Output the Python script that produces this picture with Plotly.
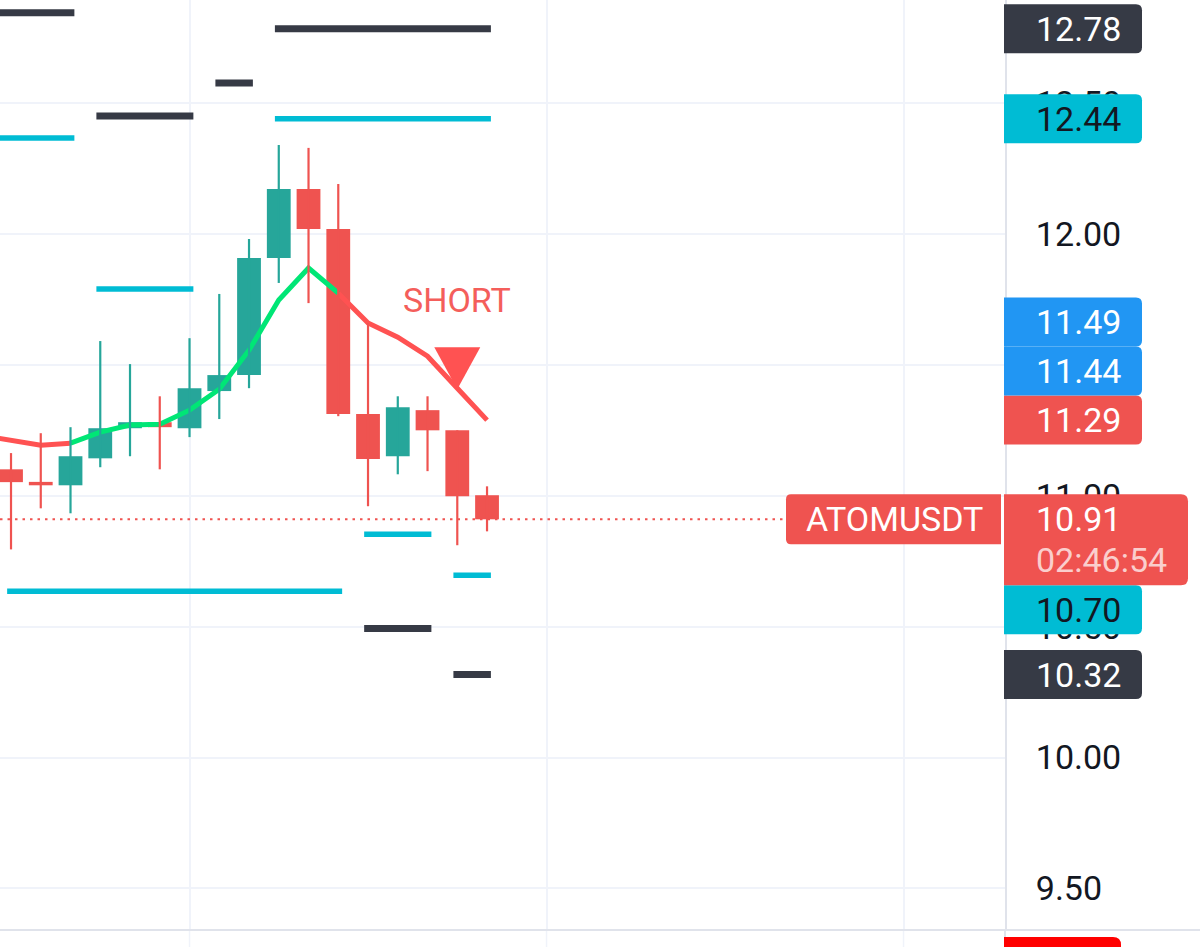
import plotly.graph_objects as go

# ---------------- data ----------------
bars   = list(range(17))
opens  = [11.101, 11.053, 11.040, 11.143, 11.258, 11.281, 11.258, 11.400, 11.461,
          11.908, 12.172, 12.019, 11.312, 11.151, 11.327, 11.250, 11.002]
highs  = [11.163, 11.239, 11.262, 11.591, 11.503, 11.380, 11.602, 11.771, 11.981,
          12.340, 12.329, 12.191, 11.660, 11.380, 11.380, 11.250, 11.036]
lows   = [10.795, 10.952, 10.933, 11.109, 11.151, 11.101, 11.224, 11.293, 11.411,
          11.813, 11.736, 11.304, 10.960, 11.082, 11.094, 10.811, 10.864]
closes = [11.052, 11.040, 11.151, 11.258, 11.281, 11.262, 11.411, 11.461, 11.908,
          12.172, 12.019, 11.312, 11.140, 11.338, 11.250, 10.998, 10.910]

ma_bars = list(range(-2, 17))
ma_vals = [11.250, 11.231, 11.212, 11.193, 11.201, 11.243, 11.270, 11.273, 11.327,
           11.407, 11.556, 11.748, 11.870, 11.774, 11.660, 11.606, 11.533, 11.411, 11.289]

# resistance (dark) and support (cyan) level segments: start bar, end bar, price
res_start = [-1, 3, 7, 9, 12, 15]
res_end   = [2, 6, 8, 16, 14, 16]
res_vals  = [12.845, 12.451, 12.577, 12.784, 10.493, 10.317]
sup_start = [-1, 3, 0, 9, 12, 15]
sup_end   = [2, 6, 11, 16, 14, 16]
sup_vals  = [12.367, 11.790, 10.635, 12.440, 10.853, 10.696]

blue_vals = [11.49, 11.44]
symbol = "ATOMUSDT"
countdown = "02:46:54"
signal_text = "SHORT"
signal_bar = 15

price_ticks = [9.5, 10.0, 10.5, 11.0, 11.5, 12.0, 12.5]
grid_bars = [6, 18, 30]

# ---------------- style ----------------
UP, DOWN = "#26A69A", "#EF5350"
MA_UP, MA_DOWN = "#00E676", "#FF5252"
DARK, CYAN, BLUE, RED = "#363A45", "#00BCD4", "#2196F3", "#EF5350"
GRID, AXIS = "#F0F3FA", "#E0E3EB"
FONT = "Roboto"

W, H = 1200, 947
M_L, M_R, M_T, M_B = 0, 195, 0, 17
Y_RANGE = [9.341, 12.894]
X_RANGE = [-0.37, 33.41]
PLOT_H = H - M_T - M_B

fig = go.Figure()

# level segments
def level_trace(starts, ends, vals, color, width):
    xs, ys = [], []
    for s, e, v in zip(starts, ends, vals):
        xs += [s - 0.13, e + 0.13, None]
        ys += [v, v, None]
    return go.Scatter(x=xs, y=ys, mode="lines", line=dict(color=color, width=width),
                      hoverinfo="skip")

fig.add_trace(level_trace(res_start, res_end, res_vals, DARK, 7))
fig.add_trace(level_trace(sup_start, sup_end, sup_vals, CYAN, 5.5))

# moving average coloured by direction (segment takes colour of its start point)
runs = []
for k in range(1, len(ma_vals) - 1):
    up = ma_vals[k] >= ma_vals[k - 1]
    seg = (ma_bars[k], ma_vals[k], ma_bars[k + 1], ma_vals[k + 1])
    if runs and runs[-1][0] == up:
        runs[-1][1].append(seg)
    else:
        runs.append([up, [seg]])
for up, segs in runs:
    xs = [segs[0][0]] + [s[2] for s in segs]
    ys = [segs[0][1]] + [s[3] for s in segs]
    fig.add_trace(go.Scatter(x=xs, y=ys, mode="lines",
                             line=dict(color=MA_UP if up else MA_DOWN, width=5),
                             hoverinfo="skip"))

# wicks
for is_up, col in [(True, UP), (False, DOWN)]:
    xs, ys = [], []
    for b, o, h, l, c in zip(bars, opens, highs, lows, closes):
        if (c >= o) == is_up:
            xs += [b, b, None]
            ys += [l, h, None]
    fig.add_trace(go.Scatter(x=xs, y=ys, mode="lines", line=dict(color=col, width=2.2),
                             hoverinfo="skip"))

# bodies
fig.add_trace(go.Bar(
    x=bars,
    base=[min(o, c) for o, c in zip(opens, closes)],
    y=[abs(c - o) for o, c in zip(opens, closes)],
    width=0.8,
    marker=dict(color=[UP if c >= o else DOWN for o, c in zip(opens, closes)], line=dict(width=0)),
    hoverinfo="skip"))

# ---------------- price scale labels ----------------
px_per_unit = PLOT_H / (Y_RANGE[1] - Y_RANGE[0])
def ypx(v):
    return M_T + (Y_RANGE[1] - v) * px_per_unit

last = closes[-1]
BOX_H = 49
main_top = ypx(last) - 25
main_bot = ypx(last) + 66

labels = []
for s, e, v in zip(res_start, res_end, res_vals):
    if e == bars[-1]:
        labels.append((v, DARK, "white"))
for s, e, v in zip(sup_start, sup_end, sup_vals):
    if e == bars[-1]:
        labels.append((v, CYAN, "#131722"))
for v in blue_vals:
    labels.append((v, BLUE, "white"))
labels.append((ma_vals[-1], RED, "white"))

above = sorted([l for l in labels if l[0] > last], key=lambda t: t[0])
below = sorted([l for l in labels if l[0] <= last], key=lambda t: -t[0])
placed = []
edge = main_top
for v, bg, fg in above:
    c = ypx(v)
    if c + BOX_H / 2 > edge:
        c = edge - BOX_H / 2
    edge = c - BOX_H / 2
    placed.append((v, bg, fg, ypx(v) - c))
edge = main_bot
for v, bg, fg in below:
    c = ypx(v)
    if c - BOX_H / 2 < edge:
        c = edge + BOX_H / 2
    edge = c + BOX_H / 2
    placed.append((v, bg, fg, ypx(v) - c))

def rbox(x0, x1, yt, yb, r, left_round=False, right_round=True):
    p = ""
    if left_round:
        p += f"M {x0},{yt - r} Q {x0},{yt} {x0 + r},{yt} "
    else:
        p += f"M {x0},{yt} "
    if right_round:
        p += f"L {x1 - r},{yt} Q {x1},{yt} {x1},{yt - r} L {x1},{yb + r} Q {x1},{yb} {x1 - r},{yb} "
    else:
        p += f"L {x1},{yt} L {x1},{yb} "
    if left_round:
        p += f"L {x0 + r},{yb} Q {x0},{yb} {x0},{yb + r} Z"
    else:
        p += f"L {x0},{yb} Z"
    return p

shapes = []
annotations = []

# last price dotted line
shapes.append(dict(type="line", xref="paper", yref="y", x0=0, x1=1, y0=last, y1=last,
                   line=dict(color=RED, width=2, dash="2.5px,5px"), layer="above"))

for v, bg, fg, shift in placed:
    shapes.append(dict(type="path", xref="paper", yref="y", xsizemode="pixel", ysizemode="pixel",
                       xanchor=1, yanchor=v, layer="above",
                       path=rbox(-1, 137, shift + BOX_H / 2, shift - BOX_H / 2, 6),
                       fillcolor=bg, line=dict(width=0)))
    annotations.append(dict(x=1, xref="paper", y=v, yref="y", xanchor="left", yanchor="middle",
                            xshift=29, yshift=shift, text=f"{v:.2f}", showarrow=False,
                            font=dict(family=FONT, size=34, color=fg)))

# main price box + symbol box
shapes.append(dict(type="path", xref="paper", yref="y", xsizemode="pixel", ysizemode="pixel",
                   xanchor=1, yanchor=last, layer="above",
                   path=rbox(-1, 183, 25, -66, 7), fillcolor=RED, line=dict(width=0)))
shapes.append(dict(type="path", xref="paper", yref="y", xsizemode="pixel", ysizemode="pixel",
                   xanchor=1, yanchor=last, layer="above",
                   path=rbox(-219, -4, 25, -25, 5, left_round=True, right_round=False),
                   fillcolor=RED, line=dict(width=0)))
annotations.append(dict(x=1, xref="paper", y=last, yref="y", xanchor="left", yanchor="middle",
                        xshift=29, yshift=0, text=f"{last:.2f}", showarrow=False,
                        font=dict(family=FONT, size=34, color="white")))
annotations.append(dict(x=1, xref="paper", y=last, yref="y", xanchor="left", yanchor="middle",
                        xshift=29, yshift=-41, text=countdown, showarrow=False,
                        font=dict(family=FONT, size=34, color="rgba(255,255,255,0.72)")))
annotations.append(dict(x=1, xref="paper", y=last, yref="y", xanchor="center", yanchor="middle",
                        xshift=-111, yshift=0, text=symbol, showarrow=False,
                        font=dict(family=FONT, size=34, color="white")))

# signal marker
sig_y = ma_vals[ma_bars.index(signal_bar)]
shapes.append(dict(type="path", xref="x", yref="y", xsizemode="pixel", ysizemode="pixel",
                   xanchor=signal_bar, yanchor=sig_y, layer="above",
                   path="M -23,41 L 23,41 L 0,-1 Z", fillcolor="#FF5252", line=dict(width=0)))
annotations.append(dict(x=signal_bar, xref="x", y=sig_y, yref="y", xanchor="center",
                        yanchor="middle", yshift=88, text=signal_text, showarrow=False,
                        font=dict(family=FONT, size=34, color="#F45E5B")))

# bottom pane separator & continuing lines
shapes.append(dict(type="line", xref="paper", yref="paper", x0=0, x1=W / (W - M_R), y0=0, y1=0,
                   line=dict(color=AXIS, width=2), layer="above"))
shapes.append(dict(type="line", xref="paper", yref="paper", ysizemode="pixel", yanchor=0,
                   x0=1, x1=1, y0=0, y1=-20, line=dict(color=AXIS, width=2), layer="above"))
for gb in grid_bars:
    shapes.append(dict(type="line", xref="x", yref="paper", ysizemode="pixel", yanchor=0,
                       x0=gb, x1=gb, y0=0, y1=-20, line=dict(color=GRID, width=1.5), layer="below"))
shapes.append(dict(type="path", xref="paper", yref="paper", xsizemode="pixel", ysizemode="pixel",
                   xanchor=1, yanchor=0, layer="above",
                   path="M -1,-40 L -1,-7 L 108,-7 Q 116,-7 116,-15 L 116,-40 Z",
                   fillcolor="#FF0000", line=dict(width=0)))

fig.update_layout(
    width=W, height=H,
    margin=dict(l=M_L, r=M_R, t=M_T, b=M_B, pad=0),
    paper_bgcolor="white", plot_bgcolor="white",
    showlegend=False, hovermode=False, barmode="overlay", dragmode=False,
    shapes=shapes, annotations=annotations,
    xaxis=dict(range=X_RANGE, tickvals=grid_bars, showticklabels=False, showgrid=True,
               gridcolor=GRID, gridwidth=1.5, zeroline=False, showline=False, ticks="",
               fixedrange=True),
    yaxis=dict(range=Y_RANGE, side="right", tickvals=price_ticks,
               ticktext=[f"{t:.2f}" for t in price_ticks], showgrid=True, gridcolor=GRID,
               gridwidth=1.5, zeroline=False, showline=True, linecolor=AXIS, linewidth=2,
               ticks="", ticklabelstandoff=22,
               tickfont=dict(family=FONT, size=34, color="#131722"), fixedrange=True),
)

fig.write_html("out.html", config={"displayModeBar": False},
               post_script="document.body.style.margin='0';document.body.style.overflow='hidden';")
